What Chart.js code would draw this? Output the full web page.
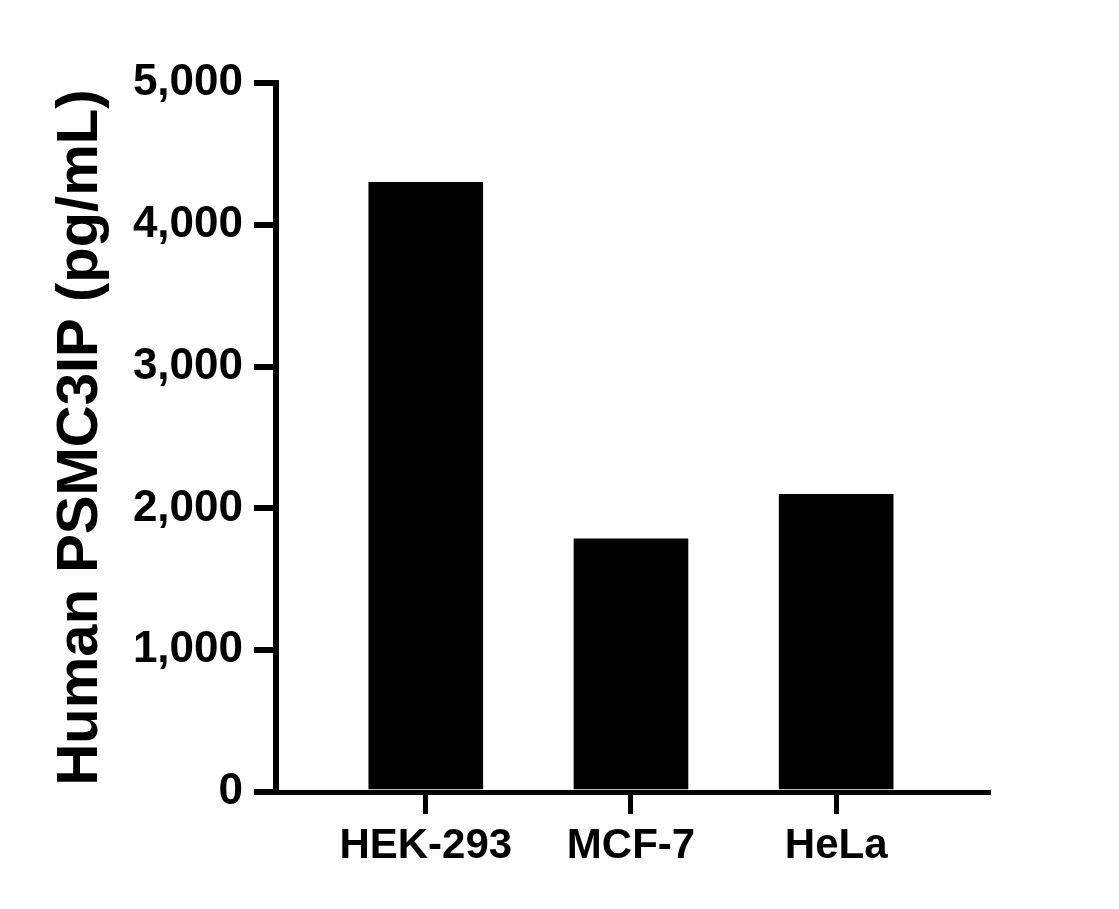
<!DOCTYPE html>
<html>
<head>
<meta charset="utf-8">
<script src="https://cdn.jsdelivr.net/npm/chart.js@4/dist/chart.umd.min.js"></script>
<style>
  body { margin: 0; background: #fff; }
</style>
</head>
<body>
<canvas id="grafico" width="1119" height="909"></canvas>
<script>
// data
const categorias = ['HEK-293', 'MCF-7', 'HeLa'];
const valores = [4300, 1785, 2100];
const yTicks = [0, 1000, 2000, 3000, 4000, 5000];

const fonte = "'Liberation Sans', Arial, sans-serif";

const config_barra = {
  type: 'bar',
  data: {
    datasets: [{
      data: categorias.map((c, i) => ({ x: i, y: valores[i] })),
      backgroundColor: '#000',
      borderWidth: 0,
      barThickness: 114
    }]
  },
  options: {
    responsive: false,
    animation: false,
    layout: { padding: { top: 83, right: 131, left: 0, bottom: 0 } },
    plugins: { legend: { display: false }, tooltip: { enabled: false } },
    scales: {
      x: {
        type: 'linear',
        offset: false,
        min: -0.73,
        max: 2.74,
        afterBuildTicks: (scale) => {
          scale.ticks = categorias.map((c, i) => ({ value: i }));
        },
        afterFit: (scale) => { scale.height = 117; },
        ticks: {
          callback: (v) => categorias[v],
          color: '#000',
          font: { family: fonte, size: 42, weight: 'bold' },
          padding: 7,
          maxRotation: 0,
          autoSkip: false
        },
        grid: { offset: false, drawOnChartArea: false, color: '#000', lineWidth: 5, tickLength: 22 },
        border: { color: '#000', width: 5 }
      },
      y: {
        min: 0,
        max: 5000,
        afterBuildTicks: (scale) => {
          scale.ticks = yTicks.map(v => ({ value: v }));
        },
        afterFit: (scale) => { scale.width = 276; },
        ticks: {
          callback: (v) => v.toLocaleString('en-US'),
          color: '#000',
          font: { family: fonte, size: 44, weight: 'bold' },
          padding: 11
        },
        title: {
          display: true,
          text: 'Human PSMC3IP (pg/mL)',
          color: '#000',
          font: { family: fonte, size: 58, weight: 'bold' },
          padding: { top: 46, bottom: 0 }
        },
        grid: { drawOnChartArea: false, color: '#000', lineWidth: 6, tickLength: 22 },
        border: { color: '#000', width: 6 }
      }
    }
  }
};

const grafico = new Chart(document.getElementById('grafico'), config_barra);
</script>
</body>
</html>
